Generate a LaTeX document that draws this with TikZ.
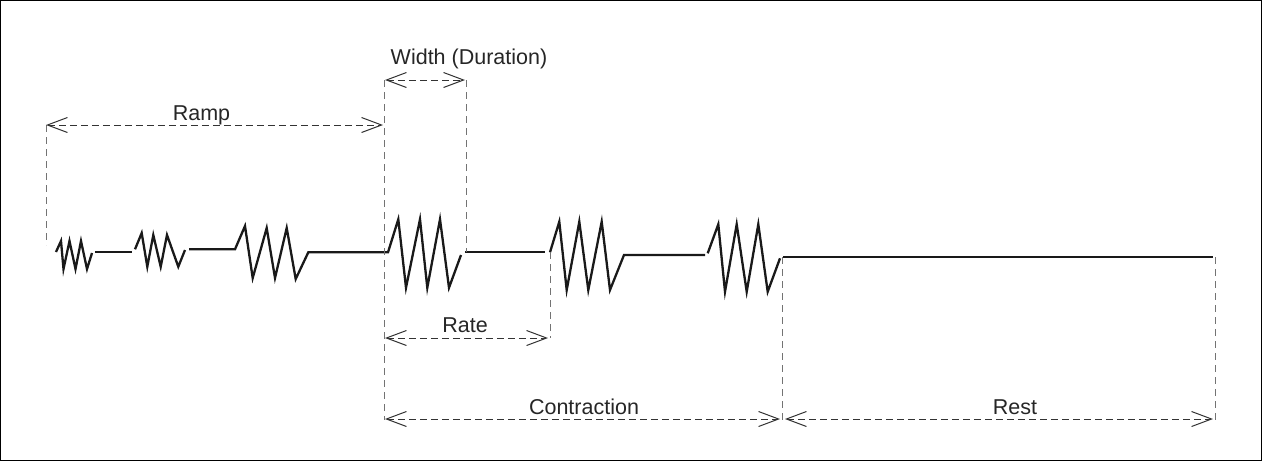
\documentclass[tikz,border=0pt]{standalone}
\usepackage{fontspec}
\setmainfont{Liberation Sans}
\usetikzlibrary{arrows.meta}
\begin{document}
\begin{tikzpicture}[x=1pt,y=-1pt,
  wave/.style={line width=2.3pt, line join=miter, black!90},
  guide/.style={line width=1pt, black!55, dash pattern=on 7pt off 5pt},
  barb/.tip={Straight Barb[length=20pt,width=15pt,line width=1pt]},
  dim/.style={line width=1pt, black!80, dash pattern=on 7pt off 4pt, barb-barb},
  lbl/.style={font=\fontsize{21.5}{26}\selectfont, text=black!85, inner sep=0pt, anchor=base}]
\useasboundingbox (0,0) rectangle (1262,461);
\draw[line width=1pt] (0.5,0.5) rectangle (1261.5,460.5);

% waveform
\draw[wave] (56,252) -- (61,241) -- (63.5,269) -- (69.5,241) -- (75.5,269) -- (81,241) -- (87,269) -- (92,253);
\draw[wave] (95,252.3) -- (132,252.3);
\draw[wave] (135,249.3) -- (141.7,233) -- (147.3,266.7) -- (153.3,235) -- (160.7,266.7) -- (167,235) -- (178.3,266.7) -- (185,250);
\draw[wave] (189,249.3) -- (235,249.3) -- (245,226) -- (252.7,278) -- (266.7,228) -- (275,278) -- (286.7,228) -- (295.7,279) -- (308.3,252.3) -- (388,252.3)
  -- (398.3,219.3) -- (406,287.7) -- (420,219.3) -- (427.3,287.7) -- (440,219.3) -- (449,287.7) -- (461,255);
\draw[wave] (465,252.3) -- (545,252.3);
\draw[wave] (550,252.3) -- (559.3,221.7) -- (566.7,290) -- (579.3,221.7) -- (588.3,290) -- (601.7,221.7) -- (610,290) -- (624,255) -- (705,255);
\draw[wave] (707.7,253.3) -- (718.3,224.3) -- (725,291.7) -- (736.7,224.3) -- (746.7,291.7) -- (758.3,224.3) -- (767.7,291.7) -- (780,258.3);
\draw[wave] (783,256.7) -- (1213,256.7);

% guide coordinates
\coordinate (g1t) at (46,125);   \coordinate (g1b) at (46,245);
\coordinate (g2t) at (384,80);   \coordinate (g2b) at (384,420);
\coordinate (g3t) at (466,80);   \coordinate (g3b) at (466,252);
\coordinate (g4t) at (550,252);  \coordinate (g4b) at (550,338);
\coordinate (g5t) at (782,257);  \coordinate (g5b) at (782,420);
\coordinate (g6t) at (1215,257); \coordinate (g6b) at (1215,420);
\draw[guide] (g1t) -- (g1b);
\draw[guide] (g2t) -- (g2b);
\draw[guide] (g3t) -- (g3b);
\draw[guide] (g4t) -- (g4b);
\draw[guide] (g5t) -- (g5b);
\draw[guide] (g6t) -- (g6b);

% dimension arrows
\coordinate (rampL) at (46,125);  \coordinate (rampR) at (383,125);
\coordinate (widL) at (385,80);   \coordinate (widR) at (465,80);
\coordinate (rateL) at (385,338); \coordinate (rateR) at (548,338);
\coordinate (conL) at (385,419);  \coordinate (conR) at (780,419);
\coordinate (restL) at (785,419); \coordinate (restR) at (1213,419);
\draw[dim] (rampL) -- (rampR);
\draw[dim] (widL) -- (widR);
\draw[dim] (rateL) -- (rateR);
\draw[dim] (conL) -- (conR);
\draw[dim] (restL) -- (restR);

% labels
\node[lbl] (lramp) at (201.5,120) {Ramp};
\node[lbl] (lwid) at (469,64) {Width (Duration)};
\node[lbl] (lrate) at (465,332) {Rate};
\node[lbl] (lcon) at (584,414) {Contraction};
\node[lbl] (lrest) at (1015,414) {Rest};
\end{tikzpicture}
\end{document}
